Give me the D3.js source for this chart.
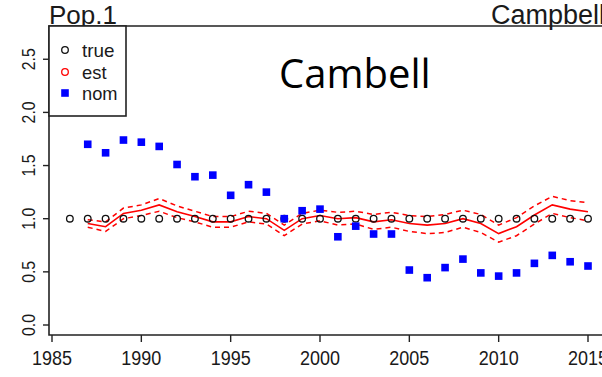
<!DOCTYPE html>
<html>
<head>
<meta charset="utf-8">
<script src="https://cdn.jsdelivr.net/npm/d3@7"></script>
<style>
  html, body { margin: 0; padding: 0; background: #fff; }
  svg { display: block; }
</style>
</head>
<body>
<svg id="chart" width="602" height="377"></svg>
<script>
// Years for each series
const trueYears = d3.range(1986, 2016);
const estYears = d3.range(1987, 2016);

// True relative abundance (flat at 1)
const trueValues = [1,1,1,1,1,1,1,1,1,1,1,1,1,1,1,1,1,1,1,1,1,1,1,1,1,1,1,1,1,1];

// Model estimate and its interval bounds, 1987-2015
const estValues = [0.955,0.925,1.05,1.08,1.13,1.065,1.02,0.97,0.97,1.02,1.0,0.89,1.0,1.03,1.0,
                   1.01,0.97,0.99,0.955,0.94,0.955,1.0,0.955,0.86,0.925,1.035,1.13,1.09,1.065];
const estUpper = [0.99,0.97,1.10,1.13,1.19,1.12,1.07,1.02,1.02,1.07,1.05,0.94,1.05,1.08,1.06,
                  1.07,1.04,1.06,1.03,1.02,1.04,1.08,1.04,0.94,1.01,1.12,1.21,1.17,1.15];
const estLower = [0.92,0.88,1.00,1.03,1.07,1.01,0.97,0.92,0.92,0.97,0.95,0.84,0.95,0.98,0.94,
                  0.95,0.90,0.92,0.88,0.86,0.87,0.92,0.87,0.78,0.84,0.95,1.05,1.01,0.98];

// Nominal CPUE index, 1987-2015
const nomValues = [1.70,1.62,1.74,1.72,1.68,1.51,1.395,1.41,1.22,1.32,1.25,1.00,1.075,1.09,0.83,
                   0.93,0.856,0.856,0.517,0.445,0.54,0.62,0.49,0.46,0.49,0.58,0.655,0.595,0.555];

// Axis ticks and labels
const xTicks = [1985, 1990, 1995, 2000, 2005, 2010, 2015];
const yTicks = [0.0, 0.5, 1.0, 1.5, 2.0, 2.5];
const legendLabels = ["true", "est", "nom"];

const svg = d3.select("#chart");
const axisFont = "'Liberation Sans', Arial, Helvetica, sans-serif";
const ink = "#1a1a1a";

const x = d3.scaleLinear().domain([1985, 2015]).range([52, 588]);
const y = d3.scaleLinear().domain([0, 2.5]).range([325, 59.25]);

const plotLeft = 49, plotTop = 26, plotBottom = 335;

// Frame: left, top and bottom lines (right side runs off the page)
svg.append("path")
  .attr("d", `M602,${plotTop}H${plotLeft}V${plotBottom}H602`)
  .attr("fill", "none").attr("stroke", "#222").attr("stroke-width", 1.6);

// Y axis ticks and rotated labels
const yAxis = svg.append("g");
yTicks.forEach(t => {
  yAxis.append("line")
    .attr("x1", plotLeft - 6).attr("x2", plotLeft)
    .attr("y1", y(t)).attr("y2", y(t))
    .attr("stroke", "#222").attr("stroke-width", 1.4);
  yAxis.append("text")
    .attr("transform", `translate(35,${y(t)}) rotate(-90)`)
    .attr("text-anchor", "middle")
    .attr("font-family", axisFont).attr("font-size", 18.5)
    .attr("textLength", 22).attr("lengthAdjust", "spacingAndGlyphs")
    .attr("fill", ink)
    .text(d3.format(".1f")(t));
});

// X axis ticks and labels
const xAxis = svg.append("g");
xTicks.forEach(t => {
  xAxis.append("line")
    .attr("x1", x(t)).attr("x2", x(t))
    .attr("y1", plotBottom).attr("y2", plotBottom + 7)
    .attr("stroke", "#222").attr("stroke-width", 1.4);
  xAxis.append("text")
    .attr("x", x(t)).attr("y", 365)
    .attr("text-anchor", "middle")
    .attr("font-family", axisFont).attr("font-size", 20.5)
    .attr("textLength", 40).attr("lengthAdjust", "spacingAndGlyphs")
    .attr("fill", ink)
    .text(t);
});

// Titles
svg.append("text").attr("x", 49).attr("y", 24)
  .attr("font-family", axisFont).attr("font-size", 26).attr("fill", ink)
  .text("Pop.1");
svg.append("text").attr("x", 491).attr("y", 24)
  .attr("font-family", axisFont).attr("font-size", 27).attr("fill", ink)
  .text("Campbell");
svg.append("text").attr("x", 279).attr("y", 88)
  .attr("font-family", "'Open Sans', 'Noto Sans', sans-serif").attr("font-size", 40).attr("fill", "#000")
  .text("Cambell");

// Estimate line with dashed interval bounds
const line = d3.line().x(d => x(d[0])).y(d => y(d[1]));
const red = "#ff0000";
svg.append("path").datum(estYears.map((yr, i) => [yr, estUpper[i]]))
  .attr("d", line).attr("fill", "none").attr("stroke", red)
  .attr("stroke-width", 1.5).attr("stroke-dasharray", "5,4");
svg.append("path").datum(estYears.map((yr, i) => [yr, estLower[i]]))
  .attr("d", line).attr("fill", "none").attr("stroke", red)
  .attr("stroke-width", 1.5).attr("stroke-dasharray", "5,4");
svg.append("path").datum(estYears.map((yr, i) => [yr, estValues[i]]))
  .attr("d", line).attr("fill", "none").attr("stroke", red)
  .attr("stroke-width", 1.6);

// True values as open circles
svg.append("g").selectAll("circle")
  .data(trueYears.map((yr, i) => [yr, trueValues[i]]))
  .join("circle")
  .attr("cx", d => x(d[0])).attr("cy", d => y(d[1]))
  .attr("r", 3.3).attr("fill", "none").attr("stroke", "#111").attr("stroke-width", 1.3);

// Nominal index as filled blue squares
const sq = 7.6;
svg.append("g").selectAll("rect")
  .data(estYears.map((yr, i) => [yr, nomValues[i]]))
  .join("rect")
  .attr("x", d => x(d[0]) - sq / 2).attr("y", d => y(d[1]) - sq / 2)
  .attr("width", sq).attr("height", sq)
  .attr("fill", "#0000ff");

// Legend
const legend = svg.append("g");
legend.append("rect")
  .attr("x", plotLeft).attr("y", plotTop).attr("width", 77).attr("height", 90)
  .attr("fill", "#fff").attr("stroke", "#222").attr("stroke-width", 1.6);
const legendY = [50, 72, 93];
const legendWidths = [32.5, 24.5, 35.5];
legendLabels.forEach((lab, i) => {
  if (i === 0) {
    legend.append("circle").attr("cx", 65).attr("cy", legendY[i]).attr("r", 3.3)
      .attr("fill", "none").attr("stroke", "#111").attr("stroke-width", 1.3);
  } else if (i === 1) {
    legend.append("circle").attr("cx", 65).attr("cy", legendY[i]).attr("r", 3.3)
      .attr("fill", "none").attr("stroke", red).attr("stroke-width", 1.3);
  } else {
    legend.append("rect").attr("x", 65 - sq / 2).attr("y", legendY[i] - sq / 2)
      .attr("width", sq).attr("height", sq).attr("fill", "#0000ff");
  }
  legend.append("text")
    .attr("x", 82).attr("y", legendY[i] + 7)
    .attr("font-family", axisFont).attr("font-size", 19)
    .attr("textLength", legendWidths[i]).attr("lengthAdjust", "spacingAndGlyphs")
    .attr("fill", ink)
    .text(lab);
});
</script>
</body>
</html>
